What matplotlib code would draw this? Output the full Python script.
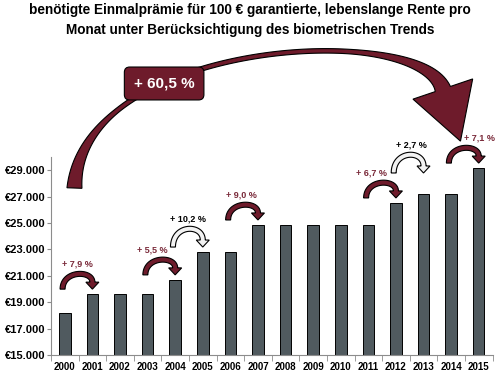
import numpy as np
import matplotlib.pyplot as plt
from matplotlib.patches import Polygon

plt.rcParams['font.family'] = ['Liberation Sans', 'DejaVu Sans']

# 1. Daten
jahre = ['2000', '2001', '2002', '2003', '2004', '2005', '2006', '2007',
         '2008', '2009', '2010', '2011', '2012', '2013', '2014', '2015']
praemie = [18150, 19590, 19590, 19590, 20670, 22780, 22780, 24830,
           24830, 24830, 24830, 24830, 26500, 27210, 27210, 29140]
y_ticks = [15000, 17000, 19000, 21000, 23000, 25000, 27000, 29000]
y_labels = ['€15.000', '€17.000', '€19.000', '€21.000',
            '€23.000', '€25.000', '€27.000', '€29.000']

# Steigerungen: Pfeil von Jahr-Index zum naechsten Jahr
pfeil_von = [0, 3, 4, 6, 11, 12, 14]
pfeil_text = ['+ 7,9 %', '+ 5,5 %', '+ 10,2 %', '+ 9,0 %', '+ 6,7 %', '+ 2,7 %', '+ 7,1 %']
pfeil_rot = [True, True, False, True, True, False, True]
gesamt_text = '+ 60,5 %'

titel1 = 'benötigte Einmalprämie für 100 € garantierte, lebenslange Rente pro'
titel2 = 'Monat unter Berücksichtigung des biometrischen Trends'

# Layout der Beschriftungen (horizontale Verschiebung in Pixeln)
text_dx = [0, -8, 0, -2, -10, 3, 16]

DUNKELROT = '#6e1b2b'
TEXTROT = '#7a2a3a'

# 2. Figur und Balken
fig = plt.figure(figsize=(5, 3.75), dpi=100)
ax = fig.add_axes([0.102, 0.0533, 0.883, 0.528])
x = np.arange(len(jahre))
ax.bar(x, praemie, width=0.42, color='#505a5f', edgecolor='black', linewidth=0.7, zorder=2)

ax.set_xlim(-0.5, len(jahre) - 0.5)
ax.set_ylim(15000, 30000)
ax.set_yticks(y_ticks)
ax.set_yticklabels(y_labels, fontsize=8, fontweight='bold')
ax.set_xticks(x)
ax.set_xticklabels(jahre, fontsize=7, fontweight='bold')
ax.set_xticks(np.arange(-0.5, len(jahre)), minor=True)
ax.tick_params(axis='x', which='major', length=0, pad=5)
ax.tick_params(axis='x', which='minor', length=4, color='#8c8c8c')
ax.tick_params(axis='y', length=3, pad=0.8, color='#8c8c8c')
for s in ['top', 'right']:
    ax.spines[s].set_visible(False)
ax.spines['left'].set_color('#8c8c8c')
ax.spines['bottom'].set_color('#8c8c8c')

fig.text(0.5, 0.973, titel1, ha='center', va='center', fontsize=9.8, fontweight='bold')
fig.text(0.5, 0.920, titel2, ha='center', va='center', fontsize=9.8, fontweight='bold')


# 3. Gebogene Pfeile (in Pixeln gerechnet, dann zurueck in Datenkoordinaten)
def bezier(p0, c1, c2, p3, t):
    t = t[:, None]
    return (1 - t)**3 * p0 + 3 * (1 - t)**2 * t * c1 + 3 * (1 - t) * t**2 * c2 + t**3 * p3


def bezier_abl(p0, c1, c2, p3, t):
    t = t[:, None]
    return 3 * (1 - t)**2 * (c1 - p0) + 6 * (1 - t) * t * (c2 - c1) + 3 * t**2 * (p3 - c2)


def pfeil(ctrl, breite, kopf_b, kopf_l, fc, z=5):
    p0, c1, c2, p3 = [np.asarray(p, float) for p in ctrl]
    t = np.linspace(0, 1, 100)
    pts = bezier(p0, c1, c2, p3, t)
    d = bezier_abl(p0, c1, c2, p3, t)
    d = d / np.linalg.norm(d, axis=1)[:, None]
    n = np.column_stack([-d[:, 1], d[:, 0]])
    w = breite(t)[:, None] / 2
    links = pts + n * w
    rechts = pts - n * w
    u, nn = d[-1], n[-1]
    kopf = [p3 + nn * kopf_b / 2, p3 + u * kopf_l, p3 - nn * kopf_b / 2]
    poly = np.vstack([links, kopf, rechts[::-1]])
    poly = ax.transData.inverted().transform(poly)
    ax.add_patch(Polygon(poly, closed=True, fc=fc, ec='black', lw=0.8,
                         clip_on=False, zorder=z))


# kleine Pfeile zwischen zwei Jahren
for i, txt, rot, dx in zip(pfeil_von, pfeil_text, pfeil_rot, text_dx):
    basis = praemie[i + 1] + 400
    if i == 12:
        basis += 1180
    h = 15 if rot else 18
    tx, ty = ax.transData.transform((i - 0.08, basis))
    hx, hy = ax.transData.transform((i + 1, basis))
    oben = ty + 4 / 3 * h - 1
    pfeil([(tx, ty), (tx, oben), (hx, oben), (hx, hy + 7)],
          lambda t: np.full_like(t, 5.0), 13, 7,
          DUNKELROT if rot else '#f2f2f2')
    ax.annotate(txt, xy=(i + 0.46, basis), xytext=(dx * 0.72, (h + 10) * 0.72),
                textcoords='offset points', ha='center', va='center',
                fontsize=6.5, fontweight='bold',
                color=TEXTROT if rot else 'black', annotation_clip=False, zorder=7)

# grosser Pfeil 2000 -> 2015
gross = [(0.35, 27650), (0.55, 38850), (12.85, 40400), (13.7, 35150)]


def gross_breite(t):
    anfang = 4.5 + 10.5 * np.clip((0.22 - t) / 0.22, 0, 1)**1.5
    ende = 11.5 * np.clip((t - 0.68) / 0.32, 0, 1)**1.6
    return anfang + ende


pfeil([ax.transData.transform(p) for p in gross], gross_breite, 63, 55, DUNKELROT, z=4)

ax.text(3.6, 35570, gesamt_text, ha='center', va='center', color='white',
        fontsize=11, fontweight='bold', zorder=6, clip_on=False,
        bbox=dict(boxstyle='round,pad=0.62,rounding_size=0.35',
                  fc=DUNKELROT, ec='black', lw=0.8))

fig.savefig('out.png', dpi=100)
